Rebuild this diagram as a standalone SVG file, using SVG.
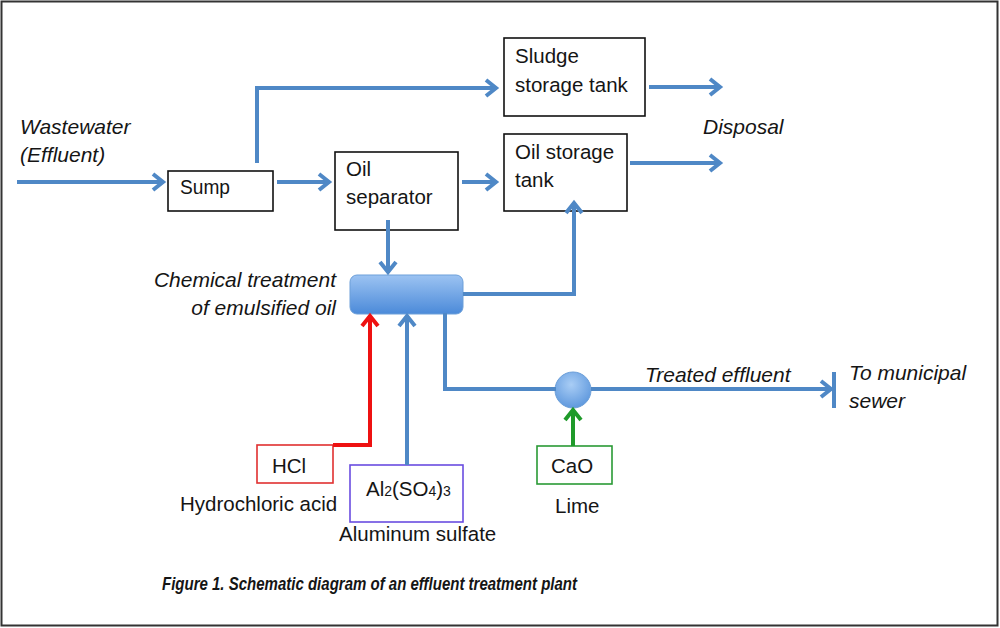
<svg xmlns="http://www.w3.org/2000/svg" width="1000" height="628" viewBox="0 0 1000 628">
<style>
.t{font-family:"Liberation Sans",Arial,sans-serif;font-size:20.5px;fill:#151515}
.i{font-family:"Liberation Sans",Arial,sans-serif;font-size:21px;font-style:italic;fill:#151515}
.box{fill:#fff;stroke:#111;stroke-width:1.6}
.flow{fill:none;stroke:#4f88c6;stroke-width:4;stroke-linejoin:miter}
</style>
<defs>
<marker id="ab" markerUnits="userSpaceOnUse" markerWidth="18" markerHeight="20" refX="13" refY="10" orient="auto">
<path d="M3,2 L13,10 L3,18" fill="none" stroke="#4f88c6" stroke-width="4"/>
</marker>
<marker id="ar" markerUnits="userSpaceOnUse" markerWidth="18" markerHeight="20" refX="13" refY="10" orient="auto">
<path d="M3,2 L13,10 L3,18" fill="none" stroke="#ee1111" stroke-width="4"/>
</marker>
<marker id="ag" markerUnits="userSpaceOnUse" markerWidth="18" markerHeight="20" refX="13" refY="10" orient="auto">
<path d="M3,2 L13,10 L3,18" fill="none" stroke="#1f9a2a" stroke-width="4"/>
</marker>
<linearGradient id="tankg" x1="0" y1="0" x2="0" y2="1">
<stop offset="0" stop-color="#9cc3f2"/>
<stop offset="1" stop-color="#4b8ad9"/>
</linearGradient>
<radialGradient id="circg" cx="0.45" cy="0.35" r="0.7">
<stop offset="0" stop-color="#a9cdf5"/>
<stop offset="1" stop-color="#5a95dc"/>
</radialGradient>
</defs>
<rect x="1.5" y="1.5" width="996" height="624" fill="#fff" stroke="#333" stroke-width="2"/>

<g id="wastewater">
<text class="i" x="20" y="134">Wastewater</text>
<text class="i" x="20" y="162">(Effluent)</text>
</g>
<g id="sump">
<rect class="box" x="168" y="171" width="105" height="40"/>
<text class="t" x="180" y="194" textLength="50" lengthAdjust="spacingAndGlyphs">Sump</text>
</g>
<g id="oil-separator">
<rect class="box" x="335" y="152" width="123" height="78"/>
<text class="t" x="346" y="176">Oil</text>
<text class="t" x="346" y="204">separator</text>
</g>
<g id="sludge-tank">
<rect class="box" x="504" y="38" width="141" height="78"/>
<text class="t" x="515" y="63">Sludge</text>
<text class="t" x="515" y="92">storage tank</text>
</g>
<g id="oil-tank">
<rect class="box" x="504" y="134" width="123" height="77"/>
<text class="t" x="515" y="159">Oil storage</text>
<text class="t" x="515" y="187">tank</text>
</g>
<g id="disposal">
<text class="i" x="703" y="134">Disposal</text>
</g>
<g id="chemical-treatment">
<rect x="350" y="275" width="113" height="39" rx="7" fill="url(#tankg)" stroke="#6c9fd9" stroke-width="1"/>
<text class="i" x="336" y="287" text-anchor="end">Chemical treatment</text>
<text class="i" x="336" y="315" text-anchor="end">of emulsified oil</text>
</g>
<g id="mixer">
<circle cx="573" cy="390" r="18" fill="url(#circg)" stroke="#6c9fd9" stroke-width="1"/>
</g>
<g id="treated-label">
<text class="i" x="645" y="382">Treated effluent</text>
</g>
<g id="sewer">
<text class="i" x="849" y="380">To municipal</text>
<text class="i" x="849" y="408">sewer</text>
</g>
<g id="hcl">
<rect x="257" y="445" width="76" height="38" fill="#fff" stroke="#e03030" stroke-width="1.6"/>
<text class="t" x="272" y="473">HCl</text>
<text class="t" x="180" y="511">Hydrochloric acid</text>
</g>
<g id="alum">
<rect x="350" y="465" width="113" height="57" fill="#fff" stroke="#6a4de0" stroke-width="1.6"/>
<text class="t" x="366" y="496">Al<tspan font-size="14">2</tspan>(SO<tspan font-size="14">4</tspan>)<tspan font-size="14">3</tspan></text>
<text class="t" x="339" y="541">Aluminum sulfate</text>
</g>
<g id="lime">
<rect x="537" y="446" width="75" height="38" fill="#fff" stroke="#2a9a35" stroke-width="1.6"/>
<text class="t" x="551" y="473">CaO</text>
<text class="t" x="555" y="513">Lime</text>
</g>
<g id="caption">
<text x="162" y="590" font-family="Liberation Sans, Arial, sans-serif" font-size="18.5" font-weight="bold" font-style="italic" fill="#151515" textLength="415" lengthAdjust="spacingAndGlyphs">Figure 1. Schematic diagram of an effluent treatment plant</text>
</g>

<g id="connectors">
<path class="flow" d="M17,182 H163" marker-end="url(#ab)"/>
<path class="flow" d="M277,182 H329" marker-end="url(#ab)"/>
<path class="flow" d="M462,182 H496" marker-end="url(#ab)"/>
<path class="flow" d="M257,163 V88 H496" marker-end="url(#ab)"/>
<path class="flow" d="M649,87 H720" marker-end="url(#ab)"/>
<path class="flow" d="M630,163 H720" marker-end="url(#ab)"/>
<path class="flow" d="M388,220 V272" marker-end="url(#ab)"/>
<path class="flow" d="M463,294 H574 V203" marker-end="url(#ab)"/>
<path class="flow" d="M445,313 V389 H556"/>
<path class="flow" d="M591,389 H831" marker-end="url(#ab)"/>
<path d="M834,372 V408" stroke="#4f88c6" stroke-width="4"/>
<path d="M333,445 H370 V316" fill="none" stroke="#ee1111" stroke-width="4" marker-end="url(#ar)"/>
<path class="flow" d="M407,465 V316" marker-end="url(#ab)"/>
<path d="M573,446 V410" fill="none" stroke="#1f9a2a" stroke-width="4" marker-end="url(#ag)"/>
</g>
</svg>
